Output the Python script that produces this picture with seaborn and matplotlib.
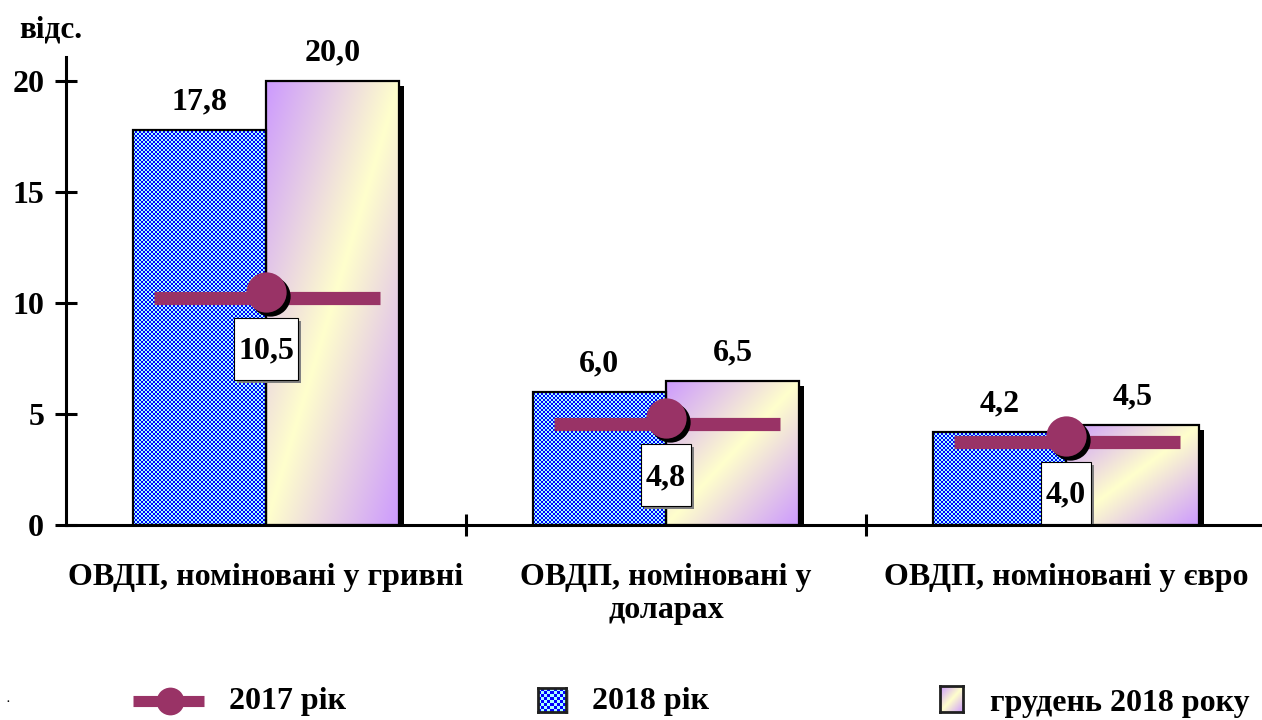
import numpy as np
import pandas as pd
import matplotlib
matplotlib.use('Agg')
import matplotlib.pyplot as plt
import seaborn as sns
from matplotlib.patches import Rectangle
from matplotlib.lines import Line2D
from matplotlib.colors import ListedColormap, to_rgb
import matplotlib.transforms as mtrans

# ---------------- data ----------------
categories = ["ОВДП, номіновані у гривні", "ОВДП, номіновані у\nдоларах", "ОВДП, номіновані у євро"]
values_2017 = [10.5, 4.8, 4.0]
values_2018 = [17.8, 6.0, 4.2]
values_dec2018 = [20.0, 6.5, 4.5]
series_names = ["2017 рік", "2018 рік", "грудень 2018 року"]
y_ticks = [0, 5, 10, 15, 20]
y_unit = "відс."

def fmt(v):
    return f"{v:.1f}".replace('.', ',')

# ---------------- style ----------------
sns.set_theme(style='white')
plt.rcParams['font.family'] = ['Liberation Serif', 'DejaVu Serif']
plt.rcParams['font.weight'] = 'bold'
for k in ['text.color', 'axes.labelcolor', 'xtick.color', 'ytick.color', 'axes.edgecolor']:
    plt.rcParams[k] = 'black'

FS = 23
W, H, DPI = 1262, 720, 100
fig = plt.figure(figsize=(W / DPI, H / DPI), dpi=DPI)
ax_left, ax_bottom, ax_top, ax_right = 66, 525, 57, 1262
ax = fig.add_axes([ax_left / W, (H - ax_bottom) / H, (ax_right - ax_left) / W, (ax_bottom - ax_top) / H])

purple = np.array(to_rgb('#CC99FF'))
yellow = np.array(to_rgb('#FFFFCC'))
line_col = '#993366'

df = pd.DataFrame({
    'cat': categories * 2,
    'series': [series_names[1]] * 3 + [series_names[2]] * 3,
    'val': values_2018 + values_dec2018,
})
sns.barplot(data=df, x='cat', y='val', hue='series', order=categories,
            hue_order=series_names[1:], width=2 / 3, dodge=True, ax=ax,
            legend=False, edgecolor='black', linewidth=1.6, saturation=1,
            palette=['#6666ff', '#eeddee'], err_kws={'linewidth': 0})

XMAX = 2.49
ymax = 21.08
ax.set_xlim(-0.5, XMAX)
ax.set_ylim(0, ymax)
px_x = (ax_right - ax_left) / (XMAX + 0.5)
px_y = (ax_bottom - ax_top) / ymax

checker_cmap = ListedColormap(['#A8FFFF', '#0000FF'])


def grad_img(n=200):
    u = np.linspace(0, 1, n)[None, :]
    v = np.linspace(1, 0, n)[:, None]
    t = (u + (1 - v)) / 2
    s = np.abs(2 * t - 1)
    return yellow[None, None, :] + (purple - yellow)[None, None, :] * s[..., None]


shadow_tr = ax.transData + mtrans.ScaledTranslation(5 / DPI, -5 / DPI, fig.dpi_scale_trans)

for ci, cont in enumerate(ax.containers[:2]):
    for p in cont.patches:
        x0, w, h = p.get_x(), p.get_width(), p.get_height()
        p.set_facecolor('none')
        p.set_zorder(4)
        sh = Rectangle((x0, 0), w, h, facecolor='black', edgecolor='none', zorder=1, transform=shadow_tr)
        ax.add_patch(sh)
        if ci == 0:
            nx = max(1, int(round(w * px_x / 2)))
            ny = max(1, int(round(h * px_y / 2)))
            ii, jj = np.meshgrid(np.arange(nx), np.arange(ny))
            arr = (ii + jj) % 2
            im = ax.imshow(arr, cmap=checker_cmap, extent=[x0, x0 + w, 0, h], aspect='auto',
                           interpolation='nearest', zorder=2, origin='lower')
        else:
            im = ax.imshow(grad_img(), extent=[x0, x0 + w, 0, h], aspect='auto',
                           interpolation='bilinear', zorder=2, origin='upper')
        im.set_clip_path(p)
        ax.annotate(fmt(h), (x0 + w / 2, h), xytext=(0, 28), textcoords='offset pixels',
                    ha='center', va='center', fontsize=FS, fontweight='bold', zorder=8)

ax.set_xlim(-0.5, XMAX)
ax.set_ylim(0, ymax)

# ---------------- 2017 line markers ----------------
xs = np.arange(len(categories))
line_tr = ax.transData + mtrans.ScaledTranslation(0, -6 / DPI, fig.dpi_scale_trans)
for x, v in zip(xs, values_2017):
    ax.plot([x - 0.28, x + 0.285], [v, v], color=line_col, linewidth=9.5, zorder=15,
            solid_capstyle='butt', transform=line_tr, alpha=1.0)
circ_shadow_tr = ax.transData + mtrans.ScaledTranslation(4 / DPI, -4 / DPI, fig.dpi_scale_trans)
ax.scatter(xs, values_2017, s=29 ** 2, color='black', zorder=16, transform=circ_shadow_tr, linewidths=0)
ax.scatter(xs, values_2017, s=29 ** 2, color=line_col, zorder=17, linewidths=0)

fig.canvas.draw()
renderer = fig.canvas.get_renderer()
for x, v in zip(xs, values_2017):
    t = ax.annotate(fmt(v), (x, v), xytext=(0, -59), textcoords='offset pixels',
                    ha='center', va='center', fontsize=FS, fontweight='bold', zorder=21)
    bb = t.get_window_extent(renderer)
    cx, cy = ax.transData.transform((x, v))
    bw = bb.width + 9
    bh = 62
    bx = cx - bw / 2
    by = cy - 26 - bh
    ax.add_patch(Rectangle((bx + 3, by - 3), bw, bh, facecolor='#808080', edgecolor='none',
                           transform=mtrans.IdentityTransform(), zorder=19, clip_on=False))
    ax.add_patch(Rectangle((bx, by), bw, bh, facecolor='white', edgecolor='black', linewidth=0.8,
                           transform=mtrans.IdentityTransform(), zorder=20, clip_on=False))

# ---------------- axes styling ----------------
for s in ['top', 'right']:
    ax.spines[s].set_visible(False)
for s in ['left', 'bottom']:
    ax.spines[s].set_linewidth(2.2)
    ax.spines[s].set_color('black')
    ax.spines[s].set_zorder(22)

ax.set_yticks(y_ticks)
ax.set_yticklabels([str(v) for v in y_ticks])
ax.tick_params(axis='y', direction='inout', length=16.5, width=2.2, labelsize=FS, pad=7.5, left=True)
ax.set_xticks(xs)
ax.set_xticklabels(categories, fontsize=FS, fontweight='bold', linespacing=1.2)
ax.set_xticks([0.5, 1.5], minor=True)
ax.tick_params(axis='x', which='major', length=0, pad=27)
ax.tick_params(axis='x', which='minor', direction='inout', length=16.5, width=2.2, bottom=True)
ax.set_xlabel('')
ax.set_ylabel('')
for lab in ax.get_yticklabels():
    lab.set_fontweight('bold')

fig.text(51 / W, 1 - 30 / H, y_unit, ha='center', va='center', fontsize=22.5, fontweight='bold')
fig.text(8 / W, 20 / H, '.', ha='center', va='center', fontsize=8)

# ---------------- legend ----------------
ly = 19 / H
fig.add_artist(Line2D(np.array([133, 170, 204]) / W, [ly] * 3, color=line_col, linewidth=8,
                      marker='o', markersize=20, markevery=[1], markeredgewidth=0,
                      solid_capstyle='butt', transform=fig.transFigure))
fig.text(229 / W, ly, series_names[0], ha='left', va='center', fontsize=FS, fontweight='bold')

fig.add_artist(Rectangle((541 / W, 6 / H), 28 / W, 24 / H, facecolor='#C0C0C0', edgecolor='none',
                         transform=fig.transFigure, zorder=-1))
lax1 = fig.add_axes([538 / W, 8 / H, 28 / W, 24 / H])
lax1.set_zorder(2)
ii, jj = np.meshgrid(np.arange(9), np.arange(8))
lax1.imshow((ii + jj) % 2, cmap=checker_cmap, aspect='auto', interpolation='nearest')
lax1.set_xticks([]); lax1.set_yticks([])
for sp in lax1.spines.values():
    sp.set_linewidth(2); sp.set_color('#202020'); sp.set_visible(True)
fig.text(592 / W, ly, series_names[1], ha='left', va='center', fontsize=FS, fontweight='bold')

lax2 = fig.add_axes([940 / W, 8 / H, 23 / W, 26 / H])
lax2.set_zorder(2)
lax2.imshow(grad_img(50), aspect='auto', interpolation='bilinear')
lax2.set_xticks([]); lax2.set_yticks([])
for sp in lax2.spines.values():
    sp.set_linewidth(2); sp.set_color('#202020'); sp.set_visible(True)
fig.text(990 / W, ly - 3 / H, series_names[2], ha='left', va='center', fontsize=FS, fontweight='bold')

fig.savefig('out.png', dpi=DPI)
